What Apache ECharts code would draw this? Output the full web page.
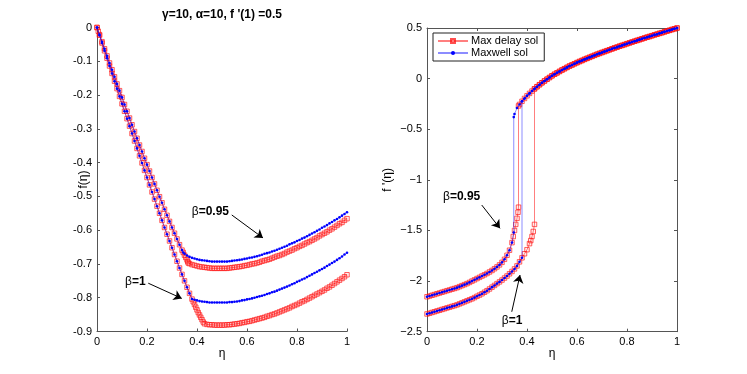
<!DOCTYPE html>
<html><head><meta charset="utf-8">
<script src="https://cdn.jsdelivr.net/npm/echarts@6/dist/echarts.min.js"></script>
<style>html,body{margin:0;padding:0;background:#fff}#c{width:747px;height:374px}</style>
</head><body><div id="c"></div>
<script>
const titleText = "γ=10, α=10, f '(1) =0.5";
const legendNames = ['Max delay sol', 'Maxwell sol'];

// ---- left panel: f(eta) ----
const fDelayHead = [[0.005,-0.011]];
const fLower095 = [[0,0],[0.01,-0.021],[0.02,-0.042],[0.03,-0.063],[0.04,-0.084],[0.05,-0.105],[0.06,-0.125],[0.07,-0.146],[0.08,-0.167],[0.09,-0.187],[0.10,-0.207],[0.11,-0.228],[0.12,-0.248],[0.13,-0.268],[0.14,-0.288],[0.15,-0.308],[0.16,-0.328],[0.17,-0.348],[0.18,-0.367],[0.19,-0.387],[0.20,-0.406],[0.21,-0.425],[0.22,-0.444],[0.23,-0.463],[0.24,-0.482],[0.25,-0.501],[0.26,-0.519],[0.27,-0.538],[0.28,-0.556],[0.29,-0.574],[0.30,-0.592],[0.31,-0.609],[0.32,-0.626],[0.33,-0.643],[0.34,-0.659],[0.345,-0.666]];
const fMaxwellTail095 = [[0.35,-0.670],[0.36,-0.675],[0.37,-0.679],[0.38,-0.682],[0.39,-0.684],[0.40,-0.686],[0.41,-0.688],[0.42,-0.689],[0.43,-0.690],[0.44,-0.691],[0.45,-0.692],[0.46,-0.693],[0.47,-0.693],[0.48,-0.693],[0.49,-0.693],[0.50,-0.693],[0.51,-0.693],[0.52,-0.693],[0.53,-0.692],[0.54,-0.691],[0.55,-0.690],[0.56,-0.689],[0.57,-0.688],[0.58,-0.687],[0.59,-0.685],[0.60,-0.684],[0.61,-0.682],[0.62,-0.681],[0.63,-0.679],[0.64,-0.677],[0.65,-0.675],[0.66,-0.673],[0.67,-0.670],[0.68,-0.668],[0.69,-0.666],[0.70,-0.663],[0.71,-0.661],[0.72,-0.658],[0.73,-0.655],[0.74,-0.652],[0.75,-0.649],[0.76,-0.646],[0.77,-0.642],[0.78,-0.639],[0.79,-0.636],[0.80,-0.632],[0.81,-0.629],[0.82,-0.625],[0.83,-0.622],[0.84,-0.618],[0.85,-0.614],[0.86,-0.610],[0.87,-0.606],[0.88,-0.602],[0.89,-0.598],[0.90,-0.593],[0.91,-0.589],[0.92,-0.585],[0.93,-0.580],[0.94,-0.576],[0.95,-0.571],[0.96,-0.567],[0.97,-0.562],[0.98,-0.557],[0.99,-0.552],[1.00,-0.547]];
const fDelayTail095 = [[0.35,-0.674],[0.355,-0.681],[0.36,-0.688],[0.363,-0.693],[0.365,-0.697],[0.37,-0.699],[0.38,-0.702],[0.39,-0.704],[0.40,-0.706],[0.41,-0.708],[0.42,-0.709],[0.43,-0.710],[0.44,-0.711],[0.45,-0.712],[0.46,-0.713],[0.47,-0.713],[0.48,-0.713],[0.49,-0.713],[0.50,-0.713],[0.51,-0.713],[0.52,-0.713],[0.53,-0.712],[0.54,-0.711],[0.55,-0.710],[0.56,-0.709],[0.57,-0.708],[0.58,-0.707],[0.59,-0.705],[0.60,-0.704],[0.61,-0.702],[0.62,-0.700],[0.63,-0.699],[0.64,-0.697],[0.65,-0.695],[0.66,-0.692],[0.67,-0.690],[0.68,-0.688],[0.69,-0.686],[0.70,-0.683],[0.71,-0.680],[0.72,-0.677],[0.73,-0.675],[0.74,-0.672],[0.75,-0.669],[0.76,-0.665],[0.77,-0.662],[0.78,-0.659],[0.79,-0.655],[0.80,-0.652],[0.81,-0.648],[0.82,-0.645],[0.83,-0.641],[0.84,-0.637],[0.85,-0.634],[0.86,-0.630],[0.87,-0.626],[0.88,-0.622],[0.89,-0.617],[0.90,-0.613],[0.91,-0.609],[0.92,-0.605],[0.93,-0.600],[0.94,-0.596],[0.95,-0.591],[0.96,-0.586],[0.97,-0.581],[0.98,-0.577],[0.99,-0.571],[1.00,-0.566]];

const fLower1 = [[0,0],[0.01,-0.023],[0.02,-0.046],[0.03,-0.069],[0.04,-0.091],[0.05,-0.114],[0.06,-0.136],[0.07,-0.159],[0.08,-0.181],[0.09,-0.204],[0.10,-0.226],[0.11,-0.248],[0.12,-0.270],[0.13,-0.292],[0.14,-0.314],[0.15,-0.336],[0.16,-0.358],[0.17,-0.380],[0.18,-0.401],[0.19,-0.423],[0.20,-0.444],[0.21,-0.466],[0.22,-0.487],[0.23,-0.508],[0.24,-0.529],[0.25,-0.550],[0.26,-0.571],[0.27,-0.592],[0.28,-0.612],[0.29,-0.632],[0.30,-0.652],[0.31,-0.672],[0.32,-0.692],[0.33,-0.712],[0.34,-0.731],[0.35,-0.750],[0.36,-0.769],[0.37,-0.787],[0.38,-0.804]];
const fMaxwellTail1 = [[0.39,-0.806],[0.40,-0.808],[0.41,-0.810],[0.42,-0.811],[0.43,-0.812],[0.44,-0.813],[0.45,-0.814],[0.46,-0.814],[0.47,-0.814],[0.48,-0.814],[0.49,-0.814],[0.50,-0.814],[0.51,-0.814],[0.52,-0.814],[0.53,-0.813],[0.54,-0.813],[0.55,-0.812],[0.56,-0.811],[0.57,-0.810],[0.58,-0.808],[0.59,-0.807],[0.60,-0.805],[0.61,-0.804],[0.62,-0.802],[0.63,-0.800],[0.64,-0.798],[0.65,-0.796],[0.66,-0.794],[0.67,-0.792],[0.68,-0.789],[0.69,-0.787],[0.70,-0.784],[0.71,-0.782],[0.72,-0.779],[0.73,-0.776],[0.74,-0.773],[0.75,-0.770],[0.76,-0.767],[0.77,-0.764],[0.78,-0.760],[0.79,-0.757],[0.80,-0.753],[0.81,-0.750],[0.82,-0.746],[0.83,-0.743],[0.84,-0.739],[0.85,-0.735],[0.86,-0.731],[0.87,-0.727],[0.88,-0.723],[0.89,-0.719],[0.90,-0.715],[0.91,-0.711],[0.92,-0.706],[0.93,-0.702],[0.94,-0.697],[0.95,-0.693],[0.96,-0.688],[0.97,-0.683],[0.98,-0.678],[0.99,-0.672],[1.00,-0.667]];
const fDelayTail1 = [[0.385,-0.812],[0.39,-0.820],[0.395,-0.828],[0.40,-0.836],[0.405,-0.844],[0.41,-0.851],[0.415,-0.858],[0.42,-0.865],[0.425,-0.872],[0.43,-0.877],[0.44,-0.879],[0.45,-0.880],[0.46,-0.880],[0.47,-0.881],[0.48,-0.881],[0.49,-0.881],[0.50,-0.881],[0.51,-0.881],[0.52,-0.880],[0.53,-0.880],[0.54,-0.879],[0.55,-0.878],[0.56,-0.877],[0.57,-0.876],[0.58,-0.874],[0.59,-0.873],[0.60,-0.871],[0.61,-0.870],[0.62,-0.868],[0.63,-0.866],[0.64,-0.864],[0.65,-0.862],[0.66,-0.860],[0.67,-0.858],[0.68,-0.855],[0.69,-0.853],[0.70,-0.850],[0.71,-0.848],[0.72,-0.845],[0.73,-0.842],[0.74,-0.839],[0.75,-0.836],[0.76,-0.833],[0.77,-0.830],[0.78,-0.826],[0.79,-0.823],[0.80,-0.820],[0.81,-0.816],[0.82,-0.812],[0.83,-0.809],[0.84,-0.805],[0.85,-0.801],[0.86,-0.797],[0.87,-0.793],[0.88,-0.789],[0.89,-0.785],[0.90,-0.781],[0.91,-0.777],[0.92,-0.772],[0.93,-0.768],[0.94,-0.763],[0.95,-0.758],[0.96,-0.753],[0.97,-0.748],[0.98,-0.743],[0.99,-0.738],[1.00,-0.732]];

// ---- right panel: f'(eta) ----
const dLower095 = [[0,-2.155],[0.01,-2.148],[0.02,-2.14],[0.03,-2.133],[0.04,-2.125],[0.05,-2.118],[0.06,-2.11],[0.07,-2.103],[0.08,-2.095],[0.09,-2.088],[0.10,-2.08],[0.11,-2.073],[0.12,-2.065],[0.13,-2.055],[0.14,-2.045],[0.15,-2.035],[0.16,-2.025],[0.17,-2.013],[0.18,-2.00],[0.19,-1.988],[0.20,-1.975],[0.21,-1.963],[0.22,-1.95],[0.23,-1.938],[0.24,-1.925],[0.25,-1.91],[0.26,-1.895],[0.27,-1.878],[0.28,-1.86],[0.29,-1.84],[0.30,-1.815],[0.31,-1.785],[0.32,-1.745],[0.33,-1.695],[0.34,-1.62]];
const dLower1 = [[0,-2.325],[0.01,-2.318],[0.02,-2.31],[0.03,-2.303],[0.04,-2.295],[0.05,-2.288],[0.06,-2.28],[0.07,-2.273],[0.08,-2.265],[0.09,-2.258],[0.10,-2.25],[0.11,-2.243],[0.12,-2.235],[0.13,-2.225],[0.14,-2.215],[0.15,-2.205],[0.16,-2.195],[0.17,-2.185],[0.18,-2.175],[0.19,-2.163],[0.20,-2.15],[0.21,-2.138],[0.22,-2.125],[0.23,-2.11],[0.24,-2.095],[0.25,-2.078],[0.26,-2.06],[0.27,-2.043],[0.28,-2.025],[0.29,-2.008],[0.30,-1.99],[0.31,-1.97],[0.32,-1.95],[0.33,-1.928],[0.34,-1.905],[0.35,-1.88],[0.36,-1.85],[0.37,-1.81],[0.38,-1.77]];
const dUpper = [[0.39,-0.196],[0.40,-0.170],[0.41,-0.146],[0.42,-0.123],[0.43,-0.101],[0.44,-0.080],[0.45,-0.060],[0.46,-0.041],[0.47,-0.023],[0.48,-0.006],[0.49,0.011],[0.50,0.028],[0.51,0.043],[0.52,0.057],[0.53,0.071],[0.54,0.085],[0.55,0.098],[0.56,0.111],[0.57,0.124],[0.58,0.135],[0.59,0.147],[0.60,0.158],[0.61,0.169],[0.62,0.179],[0.63,0.190],[0.64,0.200],[0.65,0.210],[0.66,0.220],[0.67,0.230],[0.68,0.240],[0.69,0.249],[0.70,0.258],[0.71,0.267],[0.72,0.276],[0.73,0.285],[0.74,0.294],[0.75,0.303],[0.76,0.311],[0.77,0.320],[0.78,0.328],[0.79,0.336],[0.80,0.345],[0.81,0.353],[0.82,0.361],[0.83,0.369],[0.84,0.377],[0.85,0.385],[0.86,0.393],[0.87,0.401],[0.88,0.409],[0.89,0.416],[0.90,0.424],[0.91,0.432],[0.92,0.439],[0.93,0.447],[0.94,0.454],[0.95,0.462],[0.96,0.470],[0.97,0.477],[0.98,0.485],[0.99,0.492],[1.00,0.5]];
const dMaxwellJump095 = [[0.347,-1.52],[0.347,-0.38],[0.35,-0.35],[0.36,-0.29],[0.37,-0.255],[0.38,-0.224]];
const dDelayJump095 = [[0.345,-1.56],[0.35,-1.50],[0.355,-1.44],[0.36,-1.38],[0.364,-1.32],[0.366,-1.27],[0.366,-0.27],[0.37,-0.255],[0.38,-0.224]];
const dMaxwellJump1 = [[0.38,-0.224]];
const dDelayJump1 = [[0.39,-1.73],[0.40,-1.69],[0.41,-1.63],[0.415,-1.60],[0.42,-1.56],[0.425,-1.51],[0.43,-1.44],[0.43,-0.101]];

// annotations (data coords): text anchor, arrow start, arrow end
const notesLeft = [
  {beta:'0.95', text:[0.379,-0.545], from:[0.539,-0.555], to:[0.664,-0.623]},
  {beta:'1', text:[0.112,-0.752], from:[0.205,-0.757], to:[0.339,-0.802]}
];
const notesRight = [
  {beta:'0.95', text:[0.064,-1.17], from:[0.219,-1.249], to:[0.292,-1.479]},
  {beta:'1', text:[0.299,-2.392], from:[0.339,-2.303], to:[0.372,-1.94]}
];

const FONT = 'Liberation Sans, Arial, Helvetica, sans-serif';
const AX = '#555';

function redSeries(data, xi, extra) {
  return Object.assign({
    type:'line', name:legendNames[0], xAxisIndex:xi, yAxisIndex:xi, data:data,
    symbol:'rect', symbolSize:4.5, showAllSymbol:true, z:2,
    itemStyle:{color:'rgba(255,0,0,0.06)', borderColor:'rgba(255,20,20,0.75)', borderWidth:0.9},
    lineStyle:{color:'rgba(255,0,0,0.5)', width:1}
  }, extra||{});
}
function blueSeries(data, xi, extra) {
  return Object.assign({
    type:'line', name:legendNames[1], xAxisIndex:xi, yAxisIndex:xi, data:data,
    symbol:'circle', symbolSize:2.6, showAllSymbol:true, z:3,
    itemStyle:{color:'#0000ff'},
    lineStyle:{color:'rgba(0,0,255,0.45)', width:1}
  }, extra||{});
}
function arrows(notes) {
  return {silent:true, symbol:['none','arrow'], symbolSize:8,
    lineStyle:{color:'#000', width:1, type:'solid'}, label:{show:false},
    data: notes.map(n => [{coord:n.from},{coord:n.to}])};
}
const tickCfg = {show:true, inside:true, length:3, lineStyle:{color:AX}};
const lineCfg = {show:true, onZero:false, lineStyle:{color:AX}};

function xAxisCfg(gi) {
  return {type:'value', gridIndex:gi, min:0, max:1, interval:0.2,
    name:'η', nameLocation:'middle', nameGap:16, nameMoveOverlap:false,
    nameTextStyle:{fontFamily:FONT, fontSize:12, color:'#000'},
    axisLine:lineCfg, axisTick:tickCfg,
    axisLabel:{fontFamily:FONT, fontSize:11, color:'#000', margin:5, formatter:v => v===0?'0':(v===1?'1':v.toFixed(1))},
    splitLine:{show:false}};
}

const leftY = {type:'value', gridIndex:0, min:-0.9, max:0, interval:0.1,
  name:'f(η)', nameLocation:'middle', nameGap:7, nameMoveOverlap:false,
  nameTextStyle:{fontFamily:FONT, fontSize:12, color:'#000'},
  axisLine:lineCfg, axisTick:tickCfg,
  axisLabel:{fontFamily:FONT, fontSize:11, color:'#000', margin:5, formatter:v => Math.abs(v)<1e-9?'0':v.toFixed(1)},
  splitLine:{show:false}};
const rightY = {type:'value', gridIndex:1, min:-2.5, max:0.5, interval:0.5,
  name:"f '(η)", nameLocation:'middle', nameGap:33, nameMoveOverlap:false,
  nameTextStyle:{fontFamily:FONT, fontSize:12, color:'#000'},
  axisLine:lineCfg, axisTick:tickCfg,
  axisLabel:{fontFamily:FONT, fontSize:11, color:'#000', margin:5, formatter:v => Math.abs(v)<1e-9?'0':String(v).replace('-','−')},
  splitLine:{show:false}};

const chart = echarts.init(document.getElementById('c'), null, {renderer:'canvas'});
const option = {
  animation:false,
  backgroundColor:'#fff',
  textStyle:{fontFamily:FONT},
  grid:[
    {left:97, top:27.5, width:250, height:304},
    {left:427, top:28, width:250, height:303.7}
  ],
  xAxis:[
    xAxisCfg(0), xAxisCfg(1),
    {type:'value', gridIndex:1, position:'top', min:0, max:1, interval:0.2,
     axisLine:lineCfg, axisTick:tickCfg, axisLabel:{show:false}, splitLine:{show:false}}
  ],
  yAxis:[
    leftY, rightY,
    {type:'value', gridIndex:1, position:'right', min:-2.5, max:0.5, interval:0.5,
     axisLine:lineCfg, axisTick:tickCfg, axisLabel:{show:false}, splitLine:{show:false}}
  ],
  legend:{
    data:[{name:legendNames[0]},{name:legendNames[1]}],
    orient:'vertical', left:433, top:33, itemWidth:30, itemHeight:5, itemGap:0,
    padding:[2,6,2,4], borderColor:'#222', borderWidth:1, backgroundColor:'#fff',
    textStyle:{fontFamily:FONT, fontSize:11, color:'#000', padding:[0,0,0,-2], lineHeight:12}
  },
  series:[
    redSeries(fLower095.slice(0,1).concat(fDelayHead, fLower095.slice(1), fDelayTail095), 0),
    redSeries(fLower1.concat(fDelayTail1), 0),
    blueSeries(fLower095.concat(fMaxwellTail095), 0, {markLine:arrows(notesLeft)}),
    blueSeries(fLower1.concat(fMaxwellTail1), 0),
    redSeries(dLower095.concat(dDelayJump095, dUpper), 1),
    redSeries(dLower1.concat(dDelayJump1, dUpper.slice(5)), 1),
    blueSeries(dLower095.concat(dMaxwellJump095, dUpper), 1, {markLine:arrows(notesRight)}),
    blueSeries(dLower1.concat(dMaxwellJump1, dUpper), 1)
  ]
};
chart.setOption(option);

function noteText(n, gi) {
  const p = chart.convertToPixel({gridIndex:gi}, n.text);
  return {type:'text', x:p[0], y:p[1], z:10,
    style:{text:'{a|β}{b|=' + n.beta + '}', textVerticalAlign:'middle', textAlign:'left',
      rich:{a:{fontFamily:FONT, fontSize:12, fontWeight:'normal', fill:'#000'},
            b:{fontFamily:FONT, fontSize:12, fontWeight:'bold', fill:'#000'}}}};
}
const gfx = [
  {type:'text', x:222, y:15, z:10, style:{text:titleText, font:'bold 12px ' + FONT, textAlign:'center', textVerticalAlign:'middle', fill:'#000'}}
].concat(notesLeft.map(n => noteText(n,0)), notesRight.map(n => noteText(n,1)));
chart.setOption({graphic:gfx});
</script>
</body></html>
